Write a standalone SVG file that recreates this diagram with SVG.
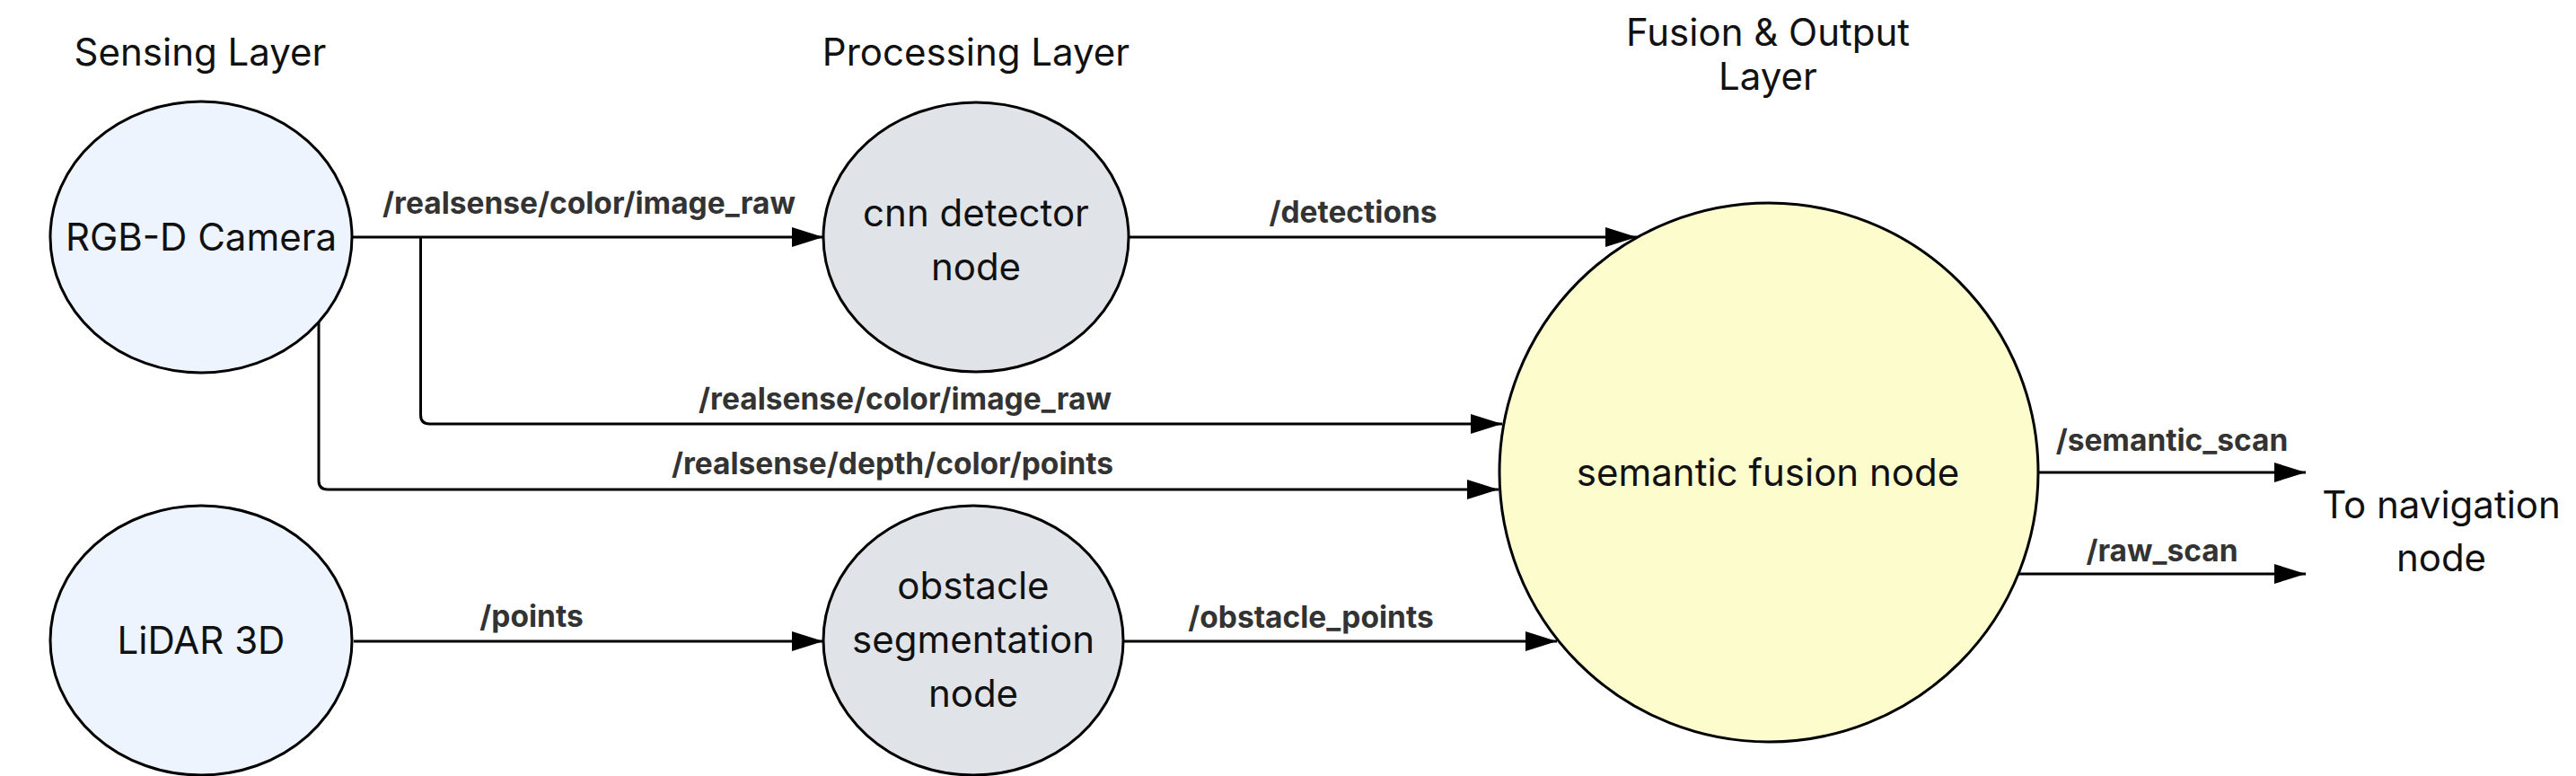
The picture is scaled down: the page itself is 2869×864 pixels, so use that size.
<svg xmlns="http://www.w3.org/2000/svg" width="2869" height="864" viewBox="0 0 2869 864">
<defs>
<style>
.node{stroke:#000;stroke-width:3}
.src{fill:#EDF4FE}
.proc{fill:#E0E3E8}
.fus{fill:#FCFCCC}
.t{font-family:Inter,"Noto Sans","Liberation Sans",sans-serif;font-size:42px;fill:#111;text-anchor:middle}
.lbl{font-family:Inter,"Noto Sans","Liberation Sans",sans-serif;font-size:33.5px;font-weight:700;fill:#333;text-anchor:middle}
.edge{fill:none;stroke:#000;stroke-width:3;marker-end:url(#arr)}
</style>
<marker id="arr" markerUnits="userSpaceOnUse" markerWidth="36" markerHeight="24" refX="35" refY="11" orient="auto">
<path d="M0,0 L35,11 L0,22 z" fill="#000"/>
</marker>
</defs>
<rect width="2869" height="864" fill="#fff"/>
<g id="headings">
<text class="t" x="223" y="73">Sensing Layer</text>
<text class="t" x="1087" y="73">Processing Layer</text>
<text class="t" x="1969" y="51">Fusion &amp; Output</text>
<text class="t" x="1969" y="100">Layer</text>
</g>
<g id="connectors">
<path class="edge" d="M392,264 H917"/>
<path class="edge" d="M468.5,264 V462 Q468.5,472 478.5,472 H1673"/>
<path class="edge" d="M355,358 V535 Q355,545 365,545 H1669"/>
<path class="edge" d="M1257,264 H1823"/>
<path class="edge" d="M394,714 H917"/>
<path class="edge" d="M1250,714 H1734"/>
<path class="edge" d="M2270,526 H2568"/>
<path class="edge" d="M2248,639 H2568"/>
<text class="lbl" x="656" y="238">/realsense/color/image_raw</text>
<text class="lbl" x="1507" y="248">/detections</text>
<text class="lbl" x="1008" y="456">/realsense/color/image_raw</text>
<text class="lbl" x="994" y="528">/realsense/depth/color/points</text>
<text class="lbl" x="592" y="698">/points</text>
<text class="lbl" x="1460" y="699">/obstacle_points</text>
<text class="lbl" x="2419" y="502">/semantic_scan</text>
<text class="lbl" x="2408" y="625">/raw_scan</text>
</g>
<g id="rgbd_camera">
<ellipse class="node src" cx="224" cy="264" rx="168" ry="151"/>
<text class="t" x="224" y="279">RGB-D Camera</text>
</g>
<g id="lidar_3d">
<ellipse class="node src" cx="224" cy="713" rx="168" ry="150"/>
<text class="t" x="224" y="728">LiDAR 3D</text>
</g>
<g id="cnn_detector_node">
<ellipse class="node proc" cx="1087" cy="264" rx="170" ry="150"/>
<text class="t" x="1087" y="252">cnn detector</text>
<text class="t" x="1087" y="312">node</text>
</g>
<g id="obstacle_segmentation_node">
<ellipse class="node proc" cx="1084" cy="713" rx="167" ry="150"/>
<text class="t" x="1084" y="667">obstacle</text>
<text class="t" x="1084" y="727">segmentation</text>
<text class="t" x="1084" y="787">node</text>
</g>
<g id="semantic_fusion_node">
<circle class="node fus" cx="1970" cy="526" r="300"/>
<text class="t" x="1969" y="541">semantic fusion node</text>
</g>
<g id="navigation">
<text class="t" x="2719" y="577">To navigation</text>
<text class="t" x="2719" y="636">node</text>
</g>
</svg>
